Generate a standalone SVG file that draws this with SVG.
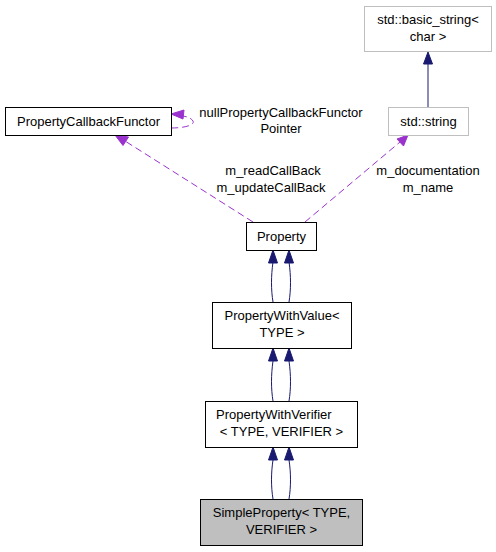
<svg xmlns="http://www.w3.org/2000/svg" width="496" height="552" viewBox="0 0 496 552">
<style>
text{font-family:"Liberation Sans",Arial,sans-serif;font-size:13px;fill:#000}
.n{fill:#fff;stroke:#000;stroke-width:1}
.g{fill:#fff;stroke:#bfbfbf;stroke-width:1}
.cur{fill:#bfbfbf;stroke:#000;stroke-width:1}
.inh{fill:none;stroke:#191970;stroke-width:1}
.use{fill:none;stroke:#9a32cd;stroke-width:1;stroke-dasharray:7,4}
.ah{fill:#191970;stroke:#191970}
.ap{fill:#9a32cd;stroke:#9a32cd}
</style>
<rect width="496" height="552" fill="#fff"/>
<g id="connectors">
<path class="inh" d="M428,107 L428,63"/>
<polygon class="ah" points="428,52 423.5,64 432.5,64"/>
<path class="inh" d="M273,302 C271,290 271,276 273,262"/>
<polygon class="ah" points="273,250 268.5,263 277.5,263"/>
<path class="inh" d="M289,302 C291,290 291,276 289,262"/>
<polygon class="ah" points="289,250 284.5,263 293.5,263"/>
<path class="inh" d="M273,401 C271,389 271,375 273,361"/>
<polygon class="ah" points="273,348 268.5,361 277.5,361"/>
<path class="inh" d="M289,401 C291,389 291,375 289,361"/>
<polygon class="ah" points="289,348 284.5,361 293.5,361"/>
<path class="inh" d="M273,499 C271,487 271,473 273,460"/>
<polygon class="ah" points="273,447 268.5,460 277.5,460"/>
<path class="inh" d="M289,499 C291,487 291,473 289,460"/>
<polygon class="ah" points="289,447 284.5,460 293.5,460"/>
<path class="use" d="M253,222 L125,141"/>
<polygon class="ap" points="115,135 128.5,137 123,145.5"/>
<path class="use" d="M305,222 L400,142"/>
<polygon class="ap" points="408,135 403.5,146 397,139"/>
<path class="use" d="M171,128 C185,128 195,125 193,121 C191,118 188,117 183,116"/>
<polygon class="ap" points="171,114 184,110 183,119"/>
</g>
<g id="n_basic_string"><rect class="g" x="364.5" y="6.5" width="127" height="45"/><text x="428" y="24" text-anchor="middle">std::basic_string&lt;</text><text x="428" y="41" text-anchor="middle">char &gt;</text></g>
<g id="n_callback"><rect class="n" x="5.5" y="107.5" width="166" height="28"/><text x="88.5" y="126" text-anchor="middle">PropertyCallbackFunctor</text></g>
<g id="n_string"><rect class="g" x="388.5" y="107.5" width="80" height="28"/><text x="428.5" y="126" text-anchor="middle">std::string</text></g>
<g id="n_property"><rect class="n" x="246.5" y="222.5" width="70" height="28"/><text x="281.5" y="241" text-anchor="middle">Property</text></g>
<g id="n_pwv"><rect class="n" x="212.5" y="302.5" width="139" height="46"/><text x="282" y="320" text-anchor="middle">PropertyWithValue&lt;</text><text x="282" y="337" text-anchor="middle">TYPE &gt;</text></g>
<g id="n_pwver"><rect class="n" x="205.5" y="401.5" width="152" height="46"/><text x="216" y="419">PropertyWithVerifier</text><text x="281.5" y="436" text-anchor="middle">&lt; TYPE, VERIFIER &gt;</text></g>
<g id="n_simple"><rect class="cur" x="200.5" y="499.5" width="162" height="46"/><text x="281.5" y="517" text-anchor="middle">SimpleProperty&lt; TYPE,</text><text x="281.5" y="534" text-anchor="middle">VERIFIER &gt;</text></g>
<g id="labels">
<text x="281" y="117" text-anchor="middle">nullPropertyCallbackFunctor</text>
<text x="281" y="133" text-anchor="middle">Pointer</text>
<text x="273" y="175" text-anchor="middle">m_readCallBack</text>
<text x="271" y="192" text-anchor="middle">m_updateCallBack</text>
<text x="428" y="175" text-anchor="middle">m_documentation</text>
<text x="428" y="192" text-anchor="middle">m_name</text>
</g>
</svg>
